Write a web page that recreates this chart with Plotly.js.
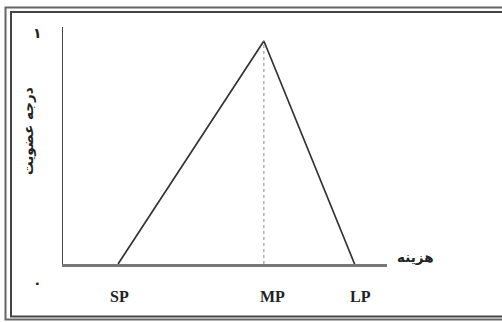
<!DOCTYPE html>
<html>
<head>
<meta charset="utf-8">
<script src="https://cdn.plot.ly/plotly-3.0.1.min.js"></script>
<style>
html,body{margin:0;padding:0;background:#fff;overflow:hidden;}
#chart{width:502px;height:322px;}
</style>
</head>
<body>
<div id="chart"></div>
<script>
// ---- data ----
const pointLabels = ['SP', 'MP', 'LP'];
const costValues = [1.7, 6.2, 9.0];
const membership = [0, 1, 0];
const xAxisTitle = 'هزینه';
const yAxisTitle = 'درجه عضویت';
const yTickLabels = ['۰', '۱'];
const yTickValues = [0, 1];

// ---- layout helpers ----
const W = 502, H = 322;
const M = {l: 63, r: 115, t: 27, b: 58};
const PW = W - M.l - M.r, PH = H - M.t - M.b;
const px = v => (v - M.l) / PW;          // pixel x -> paper
const py = v => (H - M.b - v) / PH;      // pixel y -> paper

const serifBold = {family: 'Liberation Serif, Times New Roman, serif', size: 16, color: '#222'};
const arabicFont = {family: 'DejaVu Sans, sans-serif', size: 13.5, color: '#222'};

const traces = [
  {
    x: costValues, y: membership, type: 'scatter', mode: 'lines',
    line: {color: '#333', width: 1.7}, hoverinfo: 'skip', showlegend: false
  },
  {
    x: [costValues[1], costValues[1]], y: [0, membership[1]], type: 'scatter', mode: 'lines',
    line: {color: '#888', width: 1, dash: 'dot'}, hoverinfo: 'skip', showlegend: false
  }
];

const labelShifts = [1, 9, 6];
const annotations = [];
pointLabels.forEach((t, i) => {
  annotations.push({
    x: costValues[i], y: 0, xref: 'x', yref: 'y', text: '<b>' + t + '</b>',
    showarrow: false, xanchor: 'center', yanchor: 'middle',
    xshift: labelShifts[i], yshift: -32, font: serifBold
  });
});
// y tick-like labels
annotations.push({
  x: 0, y: yTickValues[1], xref: 'paper', yref: 'y', text: '<b>' + yTickLabels[1] + '</b>',
  showarrow: false, xanchor: 'center', yanchor: 'middle', xshift: -26, yshift: 8,
  font: {family: 'DejaVu Sans, sans-serif', size: 14, color: '#222'}
});
annotations.push({
  x: 0, y: yTickValues[0], xref: 'paper', yref: 'y', text: '<b>' + yTickLabels[0] + '</b>',
  showarrow: false, xanchor: 'center', yanchor: 'middle', xshift: -26, yshift: -19,
  font: {family: 'DejaVu Sans, sans-serif', size: 14, color: '#222'}
});
// axis titles
annotations.push({
  x: 1, y: 0, xref: 'paper', yref: 'y', text: '<b>' + xAxisTitle + '</b>',
  showarrow: false, xanchor: 'center', yanchor: 'middle', xshift: 28, yshift: 7,
  font: arabicFont
});
annotations.push({
  x: 0, y: py(131), xref: 'paper', yref: 'paper', text: '<b>' + yAxisTitle + '</b>',
  showarrow: false, xanchor: 'center', yanchor: 'middle', xshift: -35, textangle: -90,
  font: arabicFont
});

// three-sided frame (right side is cut off in the reference)
function framePath(l, t, b, r) {
  return 'M ' + px(r) + ',' + py(t) + ' L ' + px(l) + ',' + py(t) +
         ' L ' + px(l) + ',' + py(b) + ' L ' + px(r) + ',' + py(b);
}
const shapes = [
  {type: 'path', xref: 'paper', yref: 'paper', path: framePath(5.5, 7.5, 319.5, 520),
   line: {color: '#666', width: 2}, layer: 'below'},
  {type: 'path', xref: 'paper', yref: 'paper', path: framePath(11, 12, 316.5, 520),
   line: {color: '#444', width: 2}, layer: 'below'}
];

const layout = {
  width: W, height: H,
  margin: M,
  paper_bgcolor: '#fff', plot_bgcolor: '#fff',
  showlegend: false,
  xaxis: {
    range: [0, 10], showgrid: false, zeroline: false, showticklabels: false, ticks: '',
    showline: true, linecolor: '#777', linewidth: 2.5, fixedrange: true
  },
  yaxis: {
    range: [0, 1.063], showgrid: false, zeroline: false, showticklabels: false, ticks: '',
    showline: true, linecolor: '#444', linewidth: 1.5, fixedrange: true
  },
  annotations: annotations,
  shapes: shapes
};

Plotly.newPlot('chart', traces, layout, {staticPlot: true, displayModeBar: false});
</script>
</body>
</html>
